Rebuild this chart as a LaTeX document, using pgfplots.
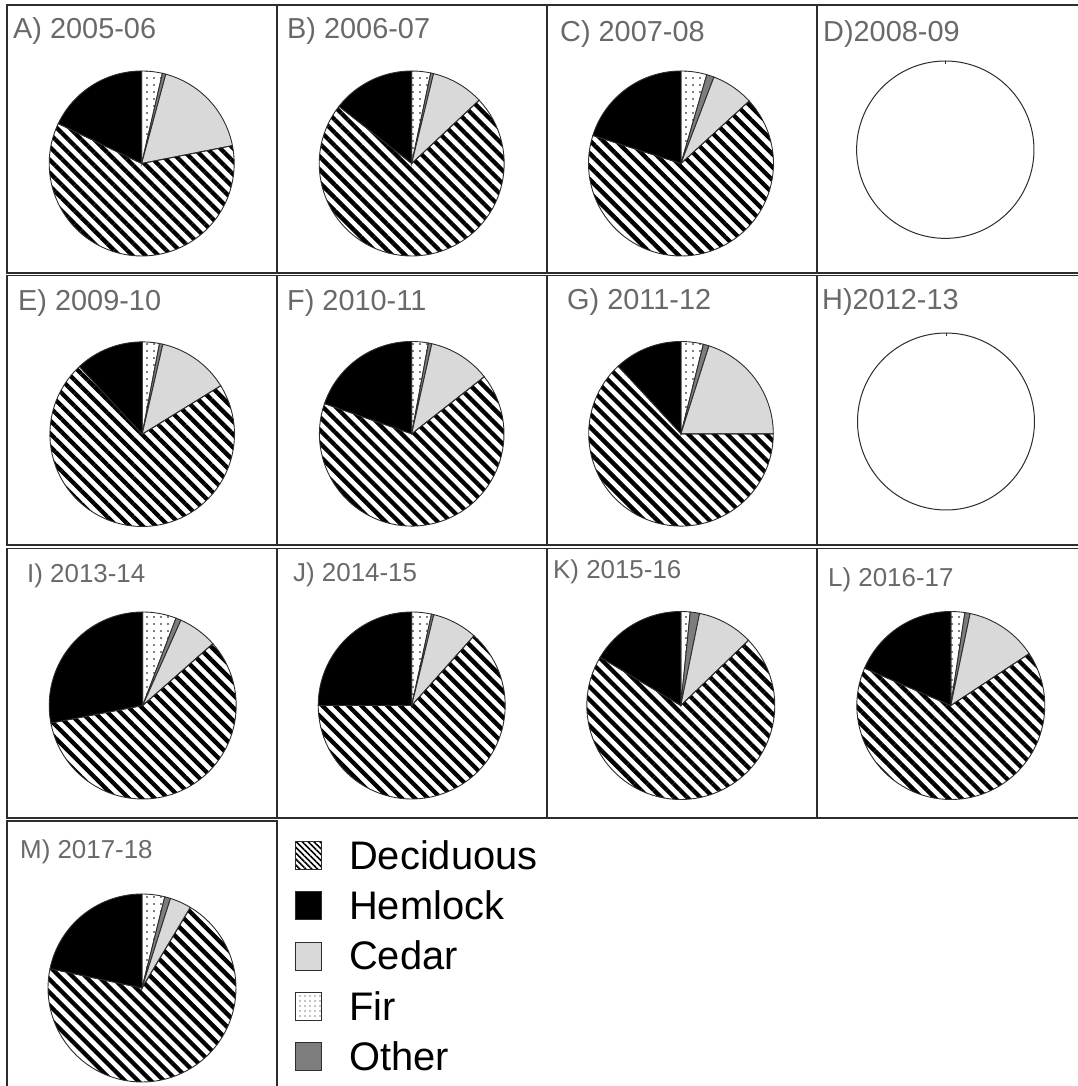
\documentclass[border=0pt]{standalone}
\usepackage{fontspec}
\setmainfont{Liberation Sans}
\usepackage{pgfplots}
\pgfplotsset{compat=1.18}
\usetikzlibrary{patterns.meta}
\definecolor{titlegray}{RGB}{105,105,105}
\definecolor{cedarc}{RGB}{217,217,217}
\definecolor{otherc}{RGB}{125,125,125}
\definecolor{edge}{RGB}{45,45,45}
\tikzset{
 sDecid/.style={pattern={Lines[angle=-45,distance=9.2bp,line width=4.3bp]}, pattern color=black, draw=edge, line width=0.9bp},
 sHem/.style={fill=black, draw=edge, line width=0.9bp},
 sCedar/.style={fill=cedarc, draw=edge, line width=0.9bp},
 sFir/.style={pattern={Dots[distance=7bp,radius=0.85bp]}, pattern color=black, draw=edge, line width=0.9bp},
 sOther/.style={fill=otherc, draw=edge, line width=0.9bp},
 sEmpty/.style={fill=white, draw=edge, line width=1bp},
 sDecidL/.style={pattern={Lines[angle=-45,distance=4.2bp,line width=1.6bp]}, pattern color=black, draw=edge, line width=1bp},
 sFirL/.style={pattern={Dots[distance=5bp,radius=0.7bp]}, pattern color=black, draw=edge, line width=1bp},
}
\pgfplotsset{boxlegend/.style={legend image code/.code={\draw[##1] (0bp,-14bp) rectangle (26bp,14bp);}}}
% one slice: cx cy r start end style (angles clockwise from 12 o'clock)
\newcommand\slice[6]{\addplot[#6, domain=#4:#5, samples=70, forget plot] ({#1+#3*sin(x)},{#2-#3*cos(x)}) -- (axis cs:#1,#2) -- cycle;}
% pie with no recorded data: outline only, tick at the top
\newcommand\emptypie[3]{%
 \addplot[sEmpty, domain=0:360, samples=120, forget plot] ({#1+#3*sin(x)},{#2-#3*cos(x)}) -- cycle;
 \addplot[draw=edge, line width=0.8bp, forget plot] coordinates {(#1,#2-#3) (#1,#2-#3+3)};}
% pie: cx cy r  Fir Other Cedar Deciduous Hemlock (percent)
\newcommand\pie[8]{%
 \pgfmathsetmacro\aA{3.6*#4}%
 \pgfmathsetmacro\aB{\aA+3.6*#5}%
 \pgfmathsetmacro\aC{\aB+3.6*#6}%
 \pgfmathsetmacro\aD{\aC+3.6*#7}%
 \edef\temp{%
  \noexpand\slice{#1}{#2}{#3}{0}{\aA}{sFir}%
  \noexpand\slice{#1}{#2}{#3}{\aA}{\aB}{sOther}%
  \noexpand\slice{#1}{#2}{#3}{\aB}{\aC}{sCedar}%
  \noexpand\slice{#1}{#2}{#3}{\aC}{\aD}{sDecid}%
  \noexpand\slice{#1}{#2}{#3}{\aD}{360}{sHem}}%
 \temp}
\newcommand\ttl[4]{\node[anchor=base west, inner sep=0pt, text=titlegray, font=\fontsize{#4}{#4}\selectfont] at (axis cs:#1,#2) {#3};}
\begin{document}
\begin{tikzpicture}
\begin{axis}[
  at={(0,0)}, anchor=south west,
  scale only axis, width=1078bp, height=1086bp,
  xmin=0, xmax=1078, ymin=0, ymax=1086, y dir=reverse,
  hide axis, clip=false,
  legend style={at={(axis cs:292,838)}, anchor=north west, draw=none, fill=none,
    font=\fontsize{40}{40}\selectfont, cells={anchor=west}, row sep=20bp, column sep=0bp,
    nodes={inner sep=0pt}, /tikz/every odd column/.style={column sep=27bp}},
  legend cell align=left,
]
% ---- pies ----
\pie{141.7}{163.5}{92.5}{3.6}{0.6}{17.7}{60.2}{17.9}
\pie{411.7}{163.5}{92.5}{3.3}{0.5}{9.2}{72.6}{14.4}
\pie{681.0}{163.5}{92.5}{4.5}{1.3}{7.4}{66.7}{20.1}
\emptypie{945.3}{149.7}{88.7}
\pie{142.2}{434.2}{92.3}{3.0}{0.6}{12.6}{71.9}{11.9}
\pie{411.7}{433.8}{92.3}{2.9}{0.6}{10.9}{65.9}{19.7}
\pie{681.0}{433.8}{92.3}{3.9}{1.0}{20.1}{63.1}{11.9}
\emptypie{946.0}{421.5}{88.5}
\pie{142.7}{705.5}{93.5}{5.8}{0.9}{6.8}{58.5}{28.0}
\pie{411.7}{705.5}{93.5}{3.4}{0.4}{7.8}{63.4}{25.0}
\pie{680.8}{705.5}{94.0}{1.6}{1.6}{9.6}{70.8}{16.4}
\pie{950.8}{705.5}{94.0}{2.4}{0.9}{12.4}{65.8}{18.5}
\pie{142.0}{988.0}{94.0}{3.9}{1.0}{3.7}{69.7}{21.7}
% ---- legend ----
\addlegendimage{boxlegend, sDecidL}\addlegendentry{Deciduous}
\addlegendimage{boxlegend, sHem}\addlegendentry{Hemlock}
\addlegendimage{boxlegend, sCedar}\addlegendentry{Cedar}
\addlegendimage{boxlegend, sFirL}\addlegendentry{Fir}
\addlegendimage{boxlegend, sOther}\addlegendentry{Other}
% ---- titles ----
\ttl{13}{39}{A) 2005-06}{29}
\ttl{287}{39}{B) 2006-07}{29}
\ttl{560}{42}{C) 2007-08}{29}
\ttl{823}{42}{D)2008-09}{29}
\ttl{18}{310}{E) 2009-10}{29}
\ttl{287}{310}{F) 2010-11}{29}
\ttl{567}{309}{G) 2011-12}{29}
\ttl{822}{309}{H)2012-13}{29}
\ttl{27}{582}{I) 2013-14}{26}
\ttl{293}{581}{J) 2014-15}{26}
\ttl{553}{578}{K) 2015-16}{26}
\ttl{828}{586}{L) 2016-17}{26}
\ttl{20}{858}{M) 2017-18}{26}
% ---- panel frames ----
\draw[edge, line width=1.5bp] (axis cs:1078,5) -- (axis cs:7,5) -- (axis cs:7,273) -- (axis cs:1078,273);
\draw[edge, line width=1.5bp] (axis cs:1078,275.5) -- (axis cs:7,275.5) -- (axis cs:7,545) -- (axis cs:1078,545);
\draw[edge, line width=1.5bp] (axis cs:1078,548.5) -- (axis cs:7,548.5) -- (axis cs:7,818) -- (axis cs:1078,818);
\draw[edge, line width=1.5bp] (axis cs:7,1086) -- (axis cs:7,821) -- (axis cs:277,821) -- (axis cs:277,1086);
\foreach \xx in {277,547,817}{
  \edef\tmp{\noexpand\draw[edge, line width=1.5bp] (axis cs:\xx,5) -- (axis cs:\xx,273);
            \noexpand\draw[edge, line width=1.5bp] (axis cs:\xx,275.5) -- (axis cs:\xx,545);
            \noexpand\draw[edge, line width=1.5bp] (axis cs:\xx,548.5) -- (axis cs:\xx,818);}\tmp}
\end{axis}
\pgfresetboundingbox
\path (0,0) rectangle (1078bp,1086bp);
\end{tikzpicture}
\end{document}
